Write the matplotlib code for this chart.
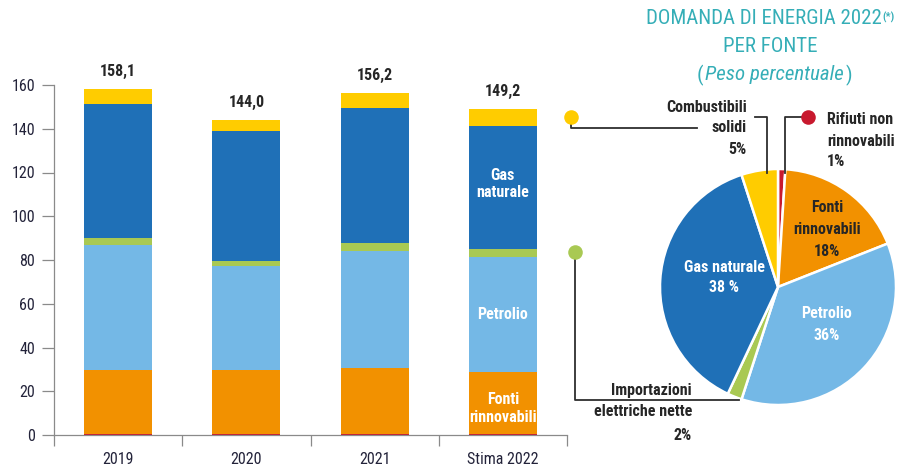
import matplotlib
matplotlib.use("Agg")
import matplotlib.pyplot as plt
import numpy as np

# ---------------- data ----------------
years = ["2019", "2020", "2021", "Stima 2022"]
totals = ["158,1", "144,0", "156,2", "149,2"]
rifiuti = [0.5, 0.5, 0.5, 0.5]
rinnovabili = [29.2, 29.2, 30.0, 28.2]
petrolio = [57.2, 47.6, 53.6, 52.8]
importazioni = [3.3, 2.4, 3.5, 3.5]
gas = [61.0, 59.3, 62.0, 56.3]
solidi = [6.9, 5.0, 6.6, 7.9]
yticks = [0, 20, 40, 60, 80, 100, 120, 140, 160]

pie_labels = ["Rifiuti non rinnovabili", "Fonti rinnovabili", "Petrolio",
              "Importazioni elettriche nette", "Gas naturale", "Combustibili solidi"]
pie_values = [1, 18, 36, 2, 38, 5]

# ---------------- style ----------------
C_RED = "#C8192E"
C_ORANGE = "#F29100"
C_LBLUE = "#74B8E6"
C_GREEN = "#A9C953"
C_DBLUE = "#1F70B7"
C_YELLOW = "#FFCC00"
C_TEAL = "#35AEB7"
C_TXT = "#262626"
C_TICK = "#23233A"
plt.rcParams["font.family"] = ["Roboto Condensed", "DejaVu Sans"]

W, H = 902, 466
fig = plt.figure(figsize=(W / 100, H / 100), dpi=100)

# ---------------- bar chart ----------------
ax = fig.add_axes([54 / W, 1 - 435 / H, (567 - 54) / W, (435 - 85) / H])
x = np.arange(len(years))
bw = 0.53
series = [(rifiuti, C_RED), (rinnovabili, C_ORANGE), (petrolio, C_LBLUE),
          (importazioni, C_GREEN), (gas, C_DBLUE), (solidi, C_YELLOW)]
bottom = np.zeros(len(years))
for vals, col in series:
    ax.bar(x, vals, bw, bottom=bottom, color=col, linewidth=0, zorder=2)
    bottom = bottom + np.array(vals)

for xi, tot, lab in zip(x, bottom, totals):
    ax.annotate(lab, xy=(xi, tot), xytext=(0, 12.5), textcoords="offset points",
                ha="center", va="center", fontsize=11.5, fontweight="bold",
                color=C_TXT, annotation_clip=False)

ax.set_xlim(-0.5, len(years) - 0.5)
ax.set_ylim(0, 160)
ax.set_yticks(yticks)
ax.set_yticklabels([str(v) for v in yticks], fontsize=11.5, color=C_TICK)
ax.tick_params(axis="y", length=9, width=0.9, color="#8A8A8A", pad=4.5)
ax.set_xticks(x)
ax.set_xticklabels(years, fontsize=11.5, color=C_TICK)
ax.set_xticks(np.arange(-0.5, len(years), 1.0), minor=True)
ax.tick_params(axis="x", which="major", length=0, pad=12)
ax.tick_params(axis="x", which="minor", length=8, width=0.9, color="#8A8A8A")
for s in ["top", "right"]:
    ax.spines[s].set_visible(False)
for s in ["left", "bottom"]:
    ax.spines[s].set_color("#8A8A8A")
    ax.spines[s].set_linewidth(0.9)

# labels inside the 2022 bar
i = 3
cum = np.cumsum([rifiuti[i], rinnovabili[i], petrolio[i], importazioni[i], gas[i]])
kw = dict(ha="center", va="center", color="white", fontsize=11.5,
          fontweight="bold", linespacing=1.2)
ax.text(i, (cum[3] + cum[4]) / 2 + 1.5, "Gas\nnaturale", **kw)
ax.text(i, (cum[1] + cum[2]) / 2, "Petrolio", **kw)
ax.text(i, (cum[0] + cum[1]) / 2 - 2.5, "Fonti\nrinnovabili", **kw)

# ---------------- pie chart ----------------
cx, cy, r = 778, 287, 118
axp = fig.add_axes([(cx - r) / W, 1 - (cy + r) / H, 2 * r / W, 2 * r / H])
pie_colors = [C_RED, C_ORANGE, C_LBLUE, C_GREEN, C_DBLUE, C_YELLOW]
axp.pie(pie_values, colors=pie_colors, startangle=90, counterclock=False,
        wedgeprops=dict(edgecolor="white", linewidth=1.8))
axp.set_xlim(-1, 1)
axp.set_ylim(-1, 1)
axp.set_aspect("equal")
axp.axis("off")

# ---------------- overlay (annotations in pixel coordinates) ----------------
ov = fig.add_axes([0, 0, 1, 1], zorder=5)
ov.set_xlim(0, W)
ov.set_ylim(H, 0)
ov.axis("off")
ov.patch.set_alpha(0)

# title
tkw = dict(va="center", fontsize=15, color=C_TEAL)
t1 = ov.text(764, 19, "DOMANDA DI ENERGIA 2022", ha="center", **tkw)
ov.annotate("(*)", xy=(1, 1), xycoords=t1, xytext=(0.5, -1.5),
            textcoords="offset points", ha="left", va="top", fontsize=8,
            fontweight="bold", color=C_TEAL)
ov.text(770, 47, "PER FONTE", ha="center", **tkw)
p1 = ov.text(697, 75, "(", ha="left", **tkw)
p2 = ov.annotate("Peso percentuale", xy=(1, 0.5), xycoords=p1, xytext=(1.0, 0),
                 textcoords="offset points", ha="left", style="italic", **tkw)
ov.annotate(")", xy=(1, 0.5), xycoords=p2, xytext=(1.5, 0),
            textcoords="offset points", ha="left", **tkw)

LC = "#2E2E2E"
lkw = dict(fontsize=11.5, fontweight="bold", color=C_TXT, va="center")


def lines(xp, ys, texts, ha, color=C_TXT):
    for yy, tt in zip(ys, texts):
        ov.text(xp, yy, tt, ha=ha, **dict(lkw, color=color))


# yellow connector
ov.plot([571, 571, 697], [117, 128, 128], color=LC, lw=1.3)
ov.scatter([571], [117], s=110, color=C_YELLOW, zorder=6, linewidths=0)
ov.plot([755, 767, 767], [117, 117, 173], color=LC, lw=1.3)
lines(747, [107, 128, 149], ["Combustibili", "solidi", "5%"], "right")
# red connector
ov.plot([806, 785, 785], [117, 117, 173], color=LC, lw=1.3)
ov.scatter([808], [117], s=110, color=C_RED, zorder=6, linewidths=0)
lines(827, [119, 141, 162], ["Rifiuti non", "rinnovabili", "1%"], "left")
# green connector
ov.plot([575, 575, 739], [252, 400, 400], color=LC, lw=1.3)
ov.scatter([575], [252], s=110, color=C_GREEN, zorder=6, linewidths=0)
lines(692, [390, 412, 435], ["Importazioni", "elettriche nette", "2%"], "right")
# inner pie labels
lines(827, [208, 229, 251], ["Fonti", "rinnovabili", "18%"], "center")
lines(724, [267, 288], ["Gas naturale", "38 %"], "center", color="white")
lines(827, [314, 335], ["Petrolio", "36%"], "center", color="white")

fig.savefig("out.png", dpi=100)
